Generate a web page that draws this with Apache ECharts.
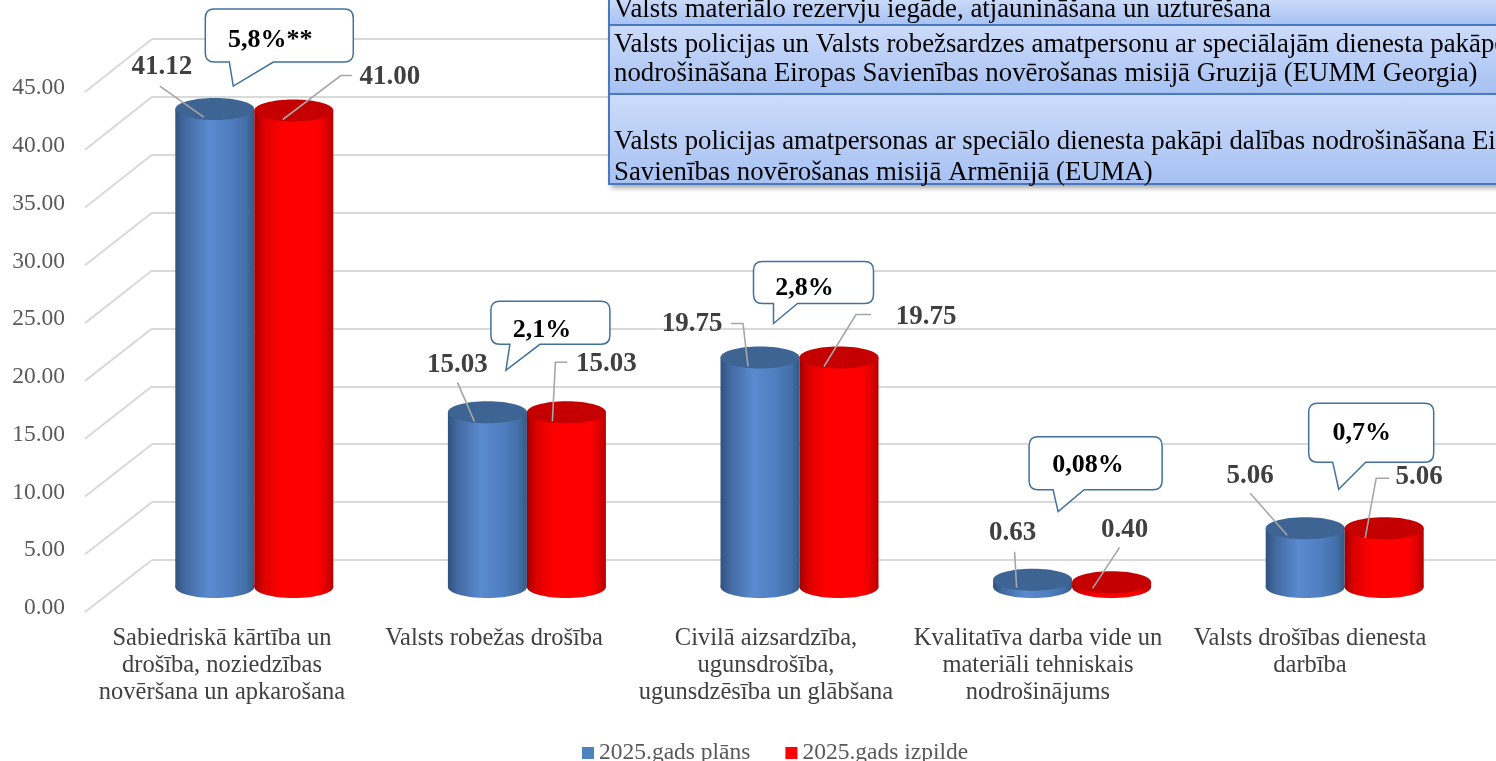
<!DOCTYPE html>
<html>
<head>
<meta charset="utf-8">
<script src="https://cdn.jsdelivr.net/npm/echarts@6/dist/echarts.min.js"></script>
<style>html,body{margin:0;padding:0;background:#fff;}#main{width:1496px;height:761px;}</style>
</head>
<body>
<div id="main"></div>
<script>
// ---------------- DATA ----------------
const categories = [
  'Sabiedriskā kārtība un\ndrošība, noziedzības\nnovēršana un apkarošana',
  'Valsts robežas drošība',
  'Civilā aizsardzība,\nugunsdrošība,\nugunsdzēsība un glābšana',
  'Kvalitatīva darba vide un\nmateriāli tehniskais\nnodrošinājums',
  'Valsts drošības dienesta\ndarbība'
];
const seriesNames = ['2025.gads plāns', '2025.gads izpilde'];
const planValues = [41.12, 15.03, 19.75, 0.63, 5.06];
const actualValues = [41.00, 15.03, 19.75, 0.40, 5.06];
const changeLabels = ['5,8%**', '2,1%', '2,8%', '0,08%', '0,7%'];
const yTickValues = [0, 5, 10, 15, 20, 25, 30, 35, 40, 45];
const tableRows = [
  ['Valsts materiālo rezervju iegāde, atjaunināšana un uzturēšana'],
  ['Valsts policijas un Valsts robežsardzes amatpersonu ar speciālajām dienesta pakāpēm',
   'nodrošināšana Eiropas Savienības novērošanas misijā Gruzijā (EUMM Georgia)'],
  ['Valsts policijas amatpersonas ar speciālo dienesta pakāpi dalības nodrošināšana Eiropas',
   'Savienības novērošanas misijā Armēnijā (EUMA)']
];

// ---------------- LAYOUT / STYLE ----------------
const FONT = '"Liberation Serif", "Times New Roman", serif';
const BAR_W = 79, RY = 11;
const planLayout = [
  {label: [-53, -42], line: [[-55, -23], [-11, 8]]},
  {label: [-30, -47], line: [[-30, -30], [-13, 9]]},
  {label: [-68, -33], line: [[-29, -34], [-17, -34], [-12, 9]]},
  {label: [-20, -47], line: [[-18, -28], [-16, 8]]},
  {label: [-55, -52], line: [[-55, -35], [-18, 7]]}
];
const actualLayout = [
  {label: [96, -33], line: [[58, -35], [47, -35], [-11, 9]]},
  {label: [40, -48], line: [[1, -50], [-11, -50], [-14, 9]]},
  {label: [87, -40], line: [[32, -43], [17, -43], [-15, 9]]},
  {label: [13, -52], line: [[8, -35], [-19, 6]]},
  {label: [35, -51], line: [[5, -50], [-8, -50], [-19, 10]]}
];
// box: [x0, x1, y0, y1] relative to group center / highest bar top; base: tail base x; tip; text
const calloutLayout = [
  {box: [-49, 99, -100, -47], base: [-25, 19], tip: [-21, -23], text: [16, -69]},
  {box: [-36, 83, -111, -68], base: [-17, 13], tip: [-21, -42], text: [15, -82]},
  {box: [-46, 74, -96, -54], base: [-26, -2], tip: [-26, -34], text: [5, -69]},
  {box: [-43, 90, -143, -90], base: [-19, 12], tip: [-14, -68], text: [16, -114]},
  {box: [-36, 89, -125, -66], base: [-12, 21], tip: [-6, -39], text: [17, -95]}
];
const blueStyle = {
  top: '#3d6493',
  body: [
    {offset: 0, color: '#30527f'}, {offset: 0.12, color: '#4269a0'},
    {offset: 0.42, color: '#5a8bd0'}, {offset: 0.7, color: '#4f7fc0'},
    {offset: 0.9, color: '#436ea6'}, {offset: 1, color: '#335985'}
  ]
};
const redStyle = {
  top: '#c40000',
  body: [
    {offset: 0, color: '#a00000'}, {offset: 0.12, color: '#dd0000'},
    {offset: 0.35, color: '#ff0000'}, {offset: 0.8, color: '#ff0000'},
    {offset: 0.93, color: '#d80000'}, {offset: 1, color: '#b00000'}
  ]
};

function cylinder(api, idx, value, side, colors, layout) {
  const top = api.coord([idx, value]);
  const base = api.coord([idx, 0]);
  const cx = top[0] + side * BAR_W / 2;
  const ty = top[1], by = base[1];
  const grad = new echarts.graphic.LinearGradient(0, 0, 1, 0, colors.body);
  const grad2 = new echarts.graphic.LinearGradient(0, 0, 1, 0, colors.body);
  return {
    type: 'group',
    children: [
      {type: 'ellipse', shape: {cx: cx, cy: by, rx: BAR_W / 2, ry: RY}, style: {fill: grad}},
      {type: 'rect', shape: {x: cx - BAR_W / 2, y: ty, width: BAR_W, height: by - ty}, style: {fill: grad2}},
      {type: 'ellipse', shape: {cx: cx, cy: ty, rx: BAR_W / 2, ry: RY}, style: {fill: colors.top}},
      {type: 'polyline', z2: 5, shape: {points: layout.line.map(p => [cx + p[0], ty + p[1]])},
        style: {stroke: '#a6a6a6', lineWidth: 1.6, fill: null}},
      {type: 'text', z2: 6, style: {text: value.toFixed(2), x: cx + layout.label[0], y: ty + layout.label[1],
        fill: '#404040', fontFamily: FONT, fontSize: 27, fontWeight: 'bold', align: 'center', verticalAlign: 'middle'}}
    ]
  };
}

function calloutPath(b) {
  const r = 9;
  const [x0, x1, y0, y1] = b.box;
  return 'M' + (x0 + r) + ' ' + y0 + ' L' + (x1 - r) + ' ' + y0 +
    ' Q' + x1 + ' ' + y0 + ' ' + x1 + ' ' + (y0 + r) +
    ' L' + x1 + ' ' + (y1 - r) +
    ' Q' + x1 + ' ' + y1 + ' ' + (x1 - r) + ' ' + y1 +
    ' L' + b.base[1] + ' ' + y1 + ' L' + b.tip[0] + ' ' + b.tip[1] + ' L' + b.base[0] + ' ' + y1 +
    ' L' + (x0 + r) + ' ' + y1 +
    ' Q' + x0 + ' ' + y1 + ' ' + x0 + ' ' + (y1 - r) +
    ' L' + x0 + ' ' + (y0 + r) +
    ' Q' + x0 + ' ' + y0 + ' ' + (x0 + r) + ' ' + y0 + ' Z';
}

const chart = echarts.init(document.getElementById('main'));
const hiddenCat = {type: 'category', data: categories, show: false};
const option = {
  animation: false,
  backgroundColor: '#ffffff',
  grid: [
    {left: 152, right: 0, top: 39, bottom: 201},
    {left: 86, right: 50, top: 88, bottom: 153},
    {left: 118, right: 15, top: 64, bottom: 174}
  ],
  xAxis: [
    Object.assign({gridIndex: 0}, hiddenCat),
    {type: 'category', gridIndex: 1, data: categories,
      axisLine: {show: false}, axisTick: {show: false},
      axisLabel: {interval: 0, margin: 17, fontFamily: FONT, fontSize: 24.5, lineHeight: 27, color: '#404040', align: 'center'}},
    Object.assign({gridIndex: 2}, hiddenCat)
  ],
  yAxis: [
    {type: 'value', gridIndex: 0, min: 0, max: 45, interval: 5,
      axisLine: {show: false}, axisTick: {show: false}, axisLabel: {show: false},
      splitLine: {show: true, showMinLine: true, showMaxLine: true, lineStyle: {color: '#d9d9d9', width: 2}}},
    {type: 'value', gridIndex: 1, min: 0, max: 45, interval: 5,
      axisLine: {show: false}, axisTick: {show: false}, splitLine: {show: false},
      axisLabel: {margin: 21, fontFamily: FONT, fontSize: 23.5, color: '#595959',
        formatter: v => v.toFixed(2)}},
    {type: 'value', gridIndex: 2, min: 0, max: 45, show: false, splitLine: {show: false}}
  ],
  legend: {
    left: 577, top: 736, itemWidth: 12, itemHeight: 12, itemGap: 35, icon: 'rect',
    textStyle: {fontFamily: FONT, fontSize: 23.5, color: '#595959'},
    data: seriesNames
  },
  series: [
    {
      name: seriesNames[0], type: 'custom', xAxisIndex: 2, yAxisIndex: 2,
      itemStyle: {color: '#4F81BD'}, clip: false,
      data: planValues.map((v, i) => [i, v]),
      renderItem: (params, api) => cylinder(api, api.value(0), api.value(1), -1, blueStyle, planLayout[api.value(0)])
    },
    {
      name: seriesNames[1], type: 'custom', xAxisIndex: 2, yAxisIndex: 2,
      itemStyle: {color: '#FF0000'}, clip: false,
      data: actualValues.map((v, i) => [i, v]),
      renderItem: (params, api) => cylinder(api, api.value(0), api.value(1), 1, redStyle, actualLayout[api.value(0)])
    },
    {
      name: 'callouts', type: 'custom', xAxisIndex: 2, yAxisIndex: 2, z: 5, clip: false,
      data: changeLabels.map((t, i) => [i, Math.max(planValues[i], actualValues[i])]),
      renderItem: (params, api) => {
        const i = api.value(0);
        const p = api.coord([i, api.value(1)]);
        const L = calloutLayout[i];
        return {
          type: 'group', x: p[0], y: p[1],
          children: [
            {type: 'path', shape: {pathData: calloutPath(L)},
              style: {fill: '#ffffff', stroke: '#41719c', lineWidth: 1.5}},
            {type: 'text', style: {text: changeLabels[i], x: L.text[0], y: L.text[1], fill: '#000000',
              fontFamily: FONT, fontSize: 26, fontWeight: 'bold', align: 'center', verticalAlign: 'middle'}}
          ]
        };
      }
    }
  ]
};
chart.setOption(option);

// perspective connectors from front value labels to back-wall gridlines
const diagonals = yTickValues.map(v => {
  const yf = chart.convertToPixel({yAxisIndex: 1}, v);
  const yb = chart.convertToPixel({yAxisIndex: 0}, v);
  return {type: 'line', z: 0, shape: {x1: 85, y1: yf + 4, x2: 152, y2: yb},
    style: {stroke: '#d9d9d9', lineWidth: 2}};
});

// overlaid table fragment (top right)
const rowBounds = [[-2, 25], [25, 94], [94, 184]];
const rowTextY = [[9.5], [44.5, 73.5], [141.5, 172.5]];
const tableChildren = [
  {type: 'rect', shape: {x: 609, y: -2, width: 900, height: 186},
    style: {fill: '#b8cdf5', shadowBlur: 5, shadowOffsetX: 2, shadowOffsetY: 4, shadowColor: 'rgba(0,0,0,0.35)'}}
];
rowBounds.forEach((rb, r) => {
  tableChildren.push({type: 'rect', shape: {x: 609, y: rb[0], width: 900, height: rb[1] - rb[0]},
    style: {fill: new echarts.graphic.LinearGradient(0, 0, 0, 1, [{offset: 0, color: '#cddcfa'}, {offset: 1, color: '#a6c1f3'}]),
      stroke: '#4a78bd', lineWidth: 2}});
  tableRows[r].forEach((t, k) => {
    tableChildren.push({type: 'text', x: 614, y: rowTextY[r][k],
      style: {text: t, fill: '#000000', fontFamily: FONT, fontSize: 26.8, verticalAlign: 'middle'}});
  });
});

chart.setOption({
  graphic: diagonals.concat([{type: 'group', z: 100, children: tableChildren}])
});
</script>
</body>
</html>
